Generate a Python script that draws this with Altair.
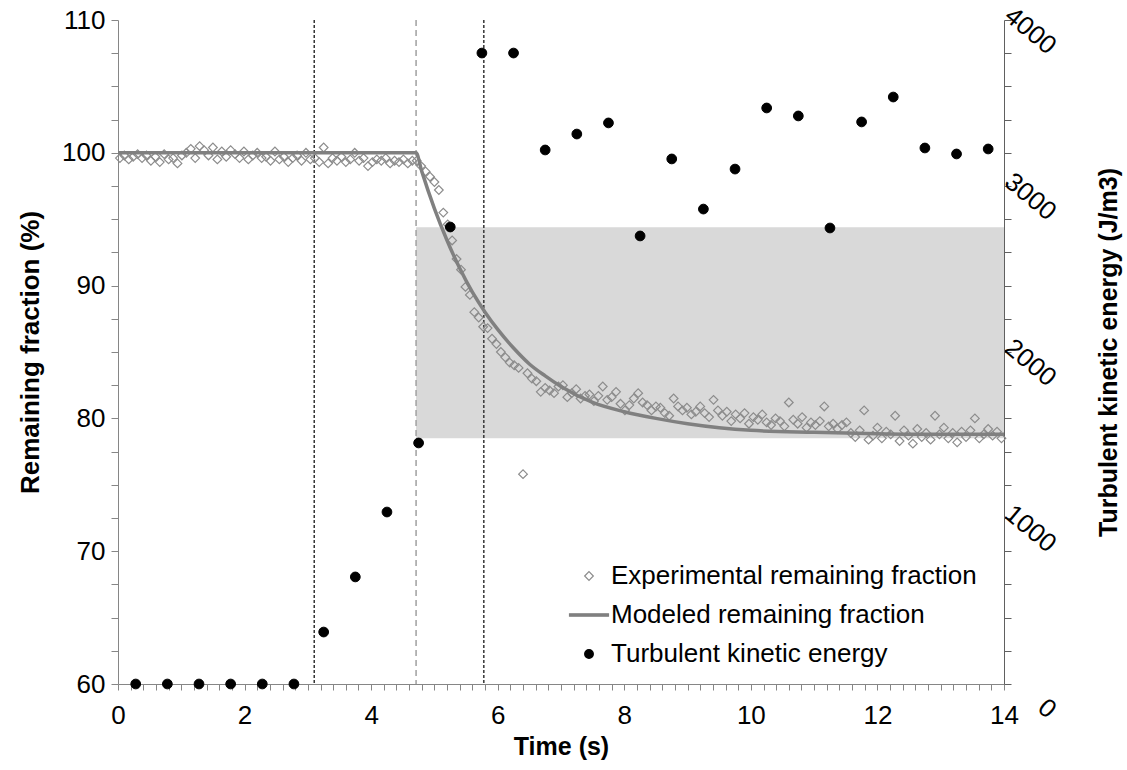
import altair as alt
import pandas as pd

# ---------------- data ----------------
# Experimental remaining fraction (%), sampled every 0.07 s starting at 0.03 s
exp_start, exp_step = 0.03, 0.07
exp_values = [
    99.6, 99.8, 99.5, 99.7, 99.9, 99.6, 99.8, 99.4,
    99.7, 99.3, 99.9, 99.5, 99.6, 99.2, 99.8, 100.0,
    100.3, 99.6, 100.5, 100.2, 99.8, 100.4, 99.5, 100.1,
    99.7, 100.2, 99.9, 99.6, 100.1, 99.5, 99.8, 100.0,
    99.6, 99.7, 99.4, 100.1, 99.5, 99.7, 99.3, 99.6,
    99.8, 99.4, 100.0, 99.5, 99.6, 99.3, 100.4, 99.2,
    99.6, 99.4, 99.7, 99.3, 99.5, 100.0, 99.4, 99.6,
    99.0, 99.3, 99.5, 99.4, 99.6, 99.2, 99.4, 99.3,
    99.5, 99.2, 99.4,
    99.4, 99.0, 98.6, 98.2, 97.8, 97.2, 95.5, 94.6, 93.4, 92.0,
    91.2, 89.9, 89.3, 88.0, 87.6, 86.9, 86.8, 86.0, 85.6, 85.0,
    84.6, 84.2, 84.0, 83.8, 75.8, 83.4, 83.0, 82.8, 82.0, 82.3,
    82.1, 81.9, 82.4, 82.5, 81.6, 81.9, 82.2, 81.5, 81.7, 81.8,
    81.3, 81.7, 82.4, 81.4, 81.6, 82.0, 81.1, 80.6, 81.0, 81.5,
    81.9, 81.2, 81.0, 80.6, 80.9, 80.8, 80.4, 80.2, 81.5, 80.9,
    80.6, 80.8, 80.3, 80.5, 80.9, 80.4, 80.1, 81.4, 80.6, 80.2,
    80.5, 79.8, 80.3, 80.0, 80.4, 79.6, 80.1, 79.9, 80.3, 79.7,
    79.5, 80.0, 79.8, 79.4, 81.2, 79.9, 79.6, 80.1, 79.3, 79.7,
    79.5, 79.8, 80.9, 79.4, 79.6, 79.2, 79.5, 79.7, 78.9, 78.6,
    79.1, 80.6, 78.4, 78.7, 79.3, 78.5, 79.0, 78.8, 80.2, 78.3,
    79.1, 78.7, 78.1, 79.2, 78.6, 78.9, 78.4, 80.2, 78.8, 79.3,
    78.5, 78.9, 78.2, 79.0, 78.6, 79.1, 80.0, 78.5, 78.8, 79.2,
    78.7, 79.0, 78.5,
]
exp_time = [round(exp_start + exp_step * i, 2) for i in range(len(exp_values))]

# Modeled remaining fraction (%)
model_time = [0, 4.71, 4.8, 5.0, 5.2, 5.4, 5.6, 5.8, 6.0, 6.25, 6.5, 6.75, 7.0,
              7.5, 8.0, 8.5, 9.0, 9.5, 10.0, 11.0, 12.0, 13.0, 14.0]
model_values = [100, 100, 98.6, 95.8, 93.4, 91.3, 89.5, 88.0, 86.7, 85.3, 84.1, 83.2, 82.4,
                81.2, 80.5, 80.0, 79.6, 79.3, 79.1, 78.95, 78.85, 78.8, 78.8]

# Turbulent kinetic energy (J/m3)
tke_time = [0.28, 0.78, 1.28, 1.78, 2.28, 2.78, 3.25, 3.75, 4.25, 4.75, 5.25, 5.75, 6.25, 6.75,
            7.25, 7.75, 8.25, 8.75, 9.25, 9.75, 10.25, 10.75, 11.25, 11.75, 12.25, 12.75,
            13.25, 13.75]
tke_values = [0, 0, 0, 0, 0, 0, 313, 645, 1036, 1452, 2753, 3801, 3801, 3217,
              3313, 3380, 2699, 3163, 2861, 3102, 3470, 3422, 2747, 3386, 3536, 3229,
              3193, 3223]

# vertical markers (s) and shaded band
marker_time = [3.10, 4.71, 5.78]
band_t = [4.71, 14.0]
band_v = [78.5, 94.4]

series_names = ["Experimental remaining fraction", "Modeled remaining fraction",
                "Turbulent kinetic energy"]

# tick positions
x_ticks = [round(0.2 * k, 1) for k in range(71)]
yl_ticks = [60 + 2.5 * k for k in range(21)]
yr_ticks = [200 * k for k in range(21)]

# ---------------- styling ----------------
FONT = "Liberation Sans"
AX_GREY = "#868686"
W, H = 886, 664
PAD_L, PAD_T = 118, 20

exp_df = pd.DataFrame({"t": exp_time, "v": exp_values, "series": series_names[0]})
model_df = pd.DataFrame({"t": model_time, "v": model_values, "series": series_names[1]})
tke_df = pd.DataFrame({"t": tke_time, "e": tke_values, "series": series_names[2]})
band_df = pd.DataFrame({"t": [band_t[0]], "t2": [band_t[1]], "v": [band_v[0]], "v2": [band_v[1]]})

x_axis = alt.Axis(
    values=x_ticks,
    labelExpr="datum.value % 2 === 0 ? format(datum.value, 'd') : ''",
    grid=False, domainColor=AX_GREY, tickColor=AX_GREY, tickSize=6,
    labelFont=FONT, labelFontSize=26, labelColor="#000", labelPadding=12,
    labelFlush=False, labelOverlap=False,
    title="Time (s)", titleFont=FONT, titleFontSize=25, titleFontWeight="bold",
    titleColor="#000", titleX=W / 2, titleY=70, titleBaseline="alphabetic",
)
yl_axis = alt.Axis(
    values=yl_ticks,
    labelExpr="datum.value % 10 === 0 ? format(datum.value, 'd') : ''",
    grid=False, domainColor=AX_GREY, tickColor=AX_GREY, tickSize=7,
    labelFont=FONT, labelFontSize=26, labelColor="#000", labelPadding=6,
    labelFlush=False, labelOverlap=False,
    title="Remaining fraction  (%)", titleFont=FONT, titleFontSize=26,
    titleFontWeight="bold", titleColor="#000", titleAngle=270,
    titleX=-88, titleY=H / 2, titleBaseline="middle", titleAlign="center",
)
yr_axis = alt.Axis(
    orient="right", values=yr_ticks,
    labelExpr="datum.value % 1000 === 0 ? format(datum.value, 'd') : ''",
    grid=False, domainColor="#606060", tickColor="#606060", tickSize=7,
    labelFont=FONT, labelFontSize=26, labelColor="#000", labelPadding=41,
    labelAngle=40, labelAlign="right", labelBaseline="middle", labelOffset=29,
    labelFlush=False, labelOverlap=False,
    title="Turbulent kinetic energy (J/m3)", titleFont=FONT, titleFontSize=25,
    titleFontWeight="bold", titleColor="#000", titleAngle=270,
    titleX=104, titleY=H / 2, titleBaseline="middle", titleAlign="center",
)

x_scale = alt.Scale(domain=[0, 14], nice=False, zero=False)
yl_scale = alt.Scale(domain=[60, 110], nice=False, zero=False)
yr_scale = alt.Scale(domain=[0, 4000], nice=False)

legend = alt.Legend(
    title=None, orient="none", legendX=458, legendY=543, padding=0,
    labelFont=FONT, labelFontSize=26, labelColor="#000", labelOffset=9,
    labelLimit=600, rowPadding=13, symbolOpacity=1, symbolSize=75,
    symbolStrokeWidth=1.2,
)
# the modeled line's legend key is a thin horizontal bar
shape_scale = alt.Scale(domain=series_names,
                        range=["diamond", "M-4.5,-0.28L4.5,-0.28L4.5,0.28L-4.5,0.28Z", "circle"])
stroke_scale = alt.Scale(domain=series_names, range=["#8c8c8c", "#808080", "#000000"])
fill_scale = alt.Scale(domain=series_names, range=["transparent", "#808080", "#000000"])

X = alt.X("t:Q", scale=x_scale, axis=x_axis)
YL = alt.Y("v:Q", scale=yl_scale, axis=yl_axis)


def point_legend_enc():
    return dict(
        shape=alt.Shape("series:N", scale=shape_scale, legend=legend),
        stroke=alt.Stroke("series:N", scale=stroke_scale, legend=legend),
        fill=alt.Fill("series:N", scale=fill_scale, legend=legend),
    )


band = alt.Chart(band_df).mark_rect(color="#d9d9d9").encode(
    x=X, x2="t2:Q", y=YL, y2="v2:Q"
)

rule_styles = [
    dict(color="#000000", strokeDash=[3, 2], strokeWidth=1.2),
    dict(color="#a6a6a6", strokeDash=[6, 4], strokeWidth=1.6),
    dict(color="#404040", strokeDash=[3, 2], strokeWidth=1.6),
]
rules = [
    alt.Chart(pd.DataFrame({"t": [tm]})).mark_rule(**st).encode(x=X)
    for tm, st in zip(marker_time, rule_styles)
]

diamonds = alt.Chart(exp_df).mark_point(filled=True, opacity=1, size=75, strokeWidth=1.2).encode(
    x=X, y=YL, **point_legend_enc()
)
model_line = alt.Chart(model_df).mark_line(interpolate="monotone", strokeWidth=3.5).encode(
    x=X, y=YL,
    stroke=alt.Stroke("series:N", scale=stroke_scale, legend=legend),
)
left = alt.layer(band, *rules, diamonds, model_line)

circles = alt.Chart(tke_df).mark_point(filled=True, opacity=1, size=95, strokeWidth=1).encode(
    x=X,
    y=alt.Y("e:Q", scale=yr_scale, axis=yr_axis),
    **point_legend_enc(),
)

chart = (
    alt.layer(left, circles)
    .resolve_scale(y="independent")
    .properties(
        width=W, height=H,
        padding={"left": PAD_L, "top": PAD_T, "right": 1127 - PAD_L - W, "bottom": 770 - PAD_T - H},
        autosize=alt.AutoSizeParams(type="none"),
        background="white",
    )
    .configure_view(stroke=None)
)

chart.save("out.html", embed_options={"renderer": "svg", "actions": False})
